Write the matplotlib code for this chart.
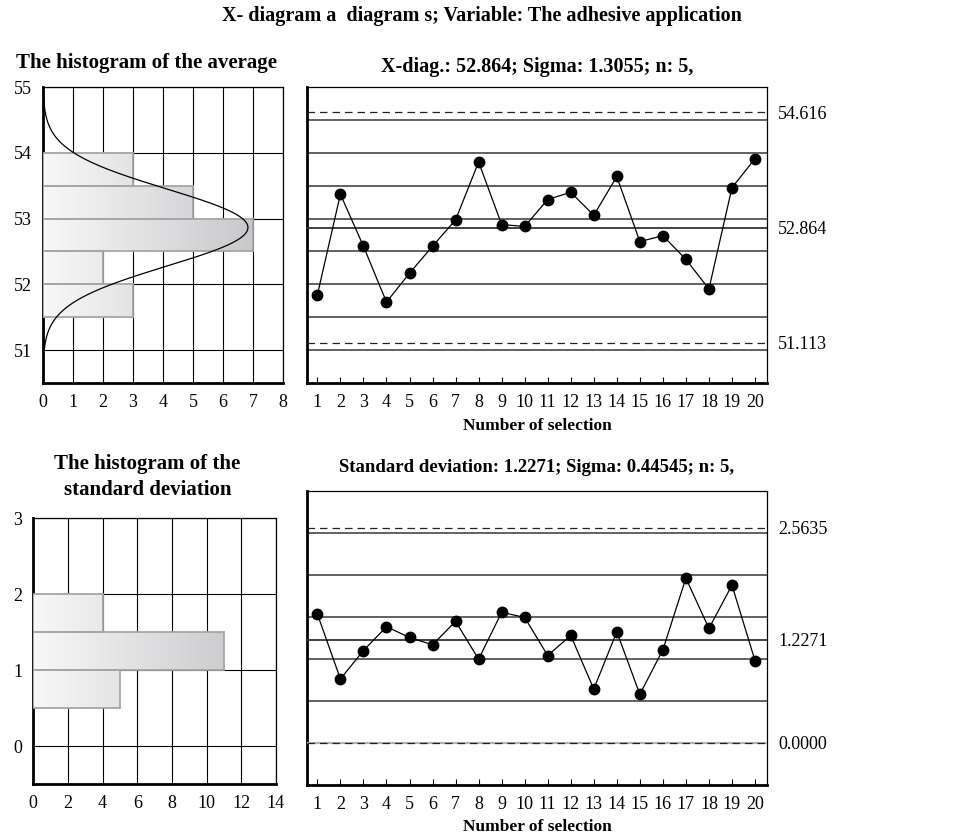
import numpy as np
import matplotlib.pyplot as plt
from matplotlib.colors import LinearSegmentedColormap

plt.rcParams['font.family'] = ['Liberation Serif', 'DejaVu Serif']

# data
samples = list(range(1, 21))
means = [51.84, 53.37, 52.58, 51.73, 52.17, 52.58, 52.98, 53.86, 52.91, 52.88,
         53.29, 53.40, 53.05, 53.64, 52.65, 52.74, 52.38, 51.93, 53.47, 53.91]
stds = [1.536, 0.762, 1.100, 1.384, 1.256, 1.169, 1.448, 0.997, 1.555, 1.495,
        1.041, 1.280, 0.642, 1.324, 0.579, 1.109, 1.962, 1.364, 1.878, 0.981]

x_lims = [51.113, 52.864, 54.616]
s_lims = [0.0, 1.2271, 2.5635]
sigma_x = 1.3055
sigma_s = 0.44545
n_size = 5

mean_edges = [51.5, 52.0, 52.5, 53.0, 53.5, 54.0]
mean_counts = [3, 2, 7, 5, 3]
std_edges = [0.5, 1.0, 1.5, 2.0]
std_counts = [5, 11, 4]

cmap = LinearSegmentedColormap.from_list('g', ['#f8f8f8', '#c2c2c6'])


def grad_bars(ax, edges, counts, xmax):
    for y0, y1, c in zip(edges[:-1], edges[1:], counts):
        bar = ax.barh((y0 + y1) / 2, c, height=y1 - y0, facecolor='none',
                      edgecolor='#a6a6a6', lw=1.3, zorder=4)[0]
        grad = np.linspace(0, c / xmax, 200).reshape(1, -1)
        im = ax.imshow(grad, cmap=cmap, vmin=0, vmax=1, extent=[0, c, y0, y1],
                       aspect='auto', zorder=3, interpolation='bilinear')
        im.set_clip_path(bar)


def style_spines(ax):
    for s in ['left', 'bottom']:
        ax.spines[s].set_linewidth(2)
    for s in ['top', 'right']:
        ax.spines[s].set_linewidth(0.9)


fig = plt.figure(figsize=(9.7, 8.4), dpi=100)

# ---- top left: histogram of means
ax1 = fig.add_axes([0.0443, 0.544, 0.2474, 0.3524])
grad_bars(ax1, mean_edges, mean_counts, 8)
sig_m = sigma_x / np.sqrt(n_size)
yy = np.linspace(51.0, 55.0, 400)
xx = sum(mean_counts) * 0.5 / (sig_m * np.sqrt(2 * np.pi)) * np.exp(-0.5 * ((yy - x_lims[1]) / sig_m) ** 2)
ax1.plot(xx, yy, color='black', lw=0.9, zorder=5)
ax1.set_xlim(0, 8)
ax1.set_ylim(50.5, 55)
ax1.set_xticks(range(0, 9))
ax1.set_yticks(range(51, 56))
ax1.grid(True, color='black', lw=0.8, zorder=1)
ax1.set_axisbelow(True)
ax1.tick_params(labelsize=13, length=0, pad=8)
style_spines(ax1)

# ---- top right: X chart
ax2 = fig.add_axes([0.3165, 0.544, 0.4742, 0.3524])
ax2.plot(samples, means, color='black', lw=0.9, marker='o', ms=7.5, zorder=5)
ax2.axhline(x_lims[0], color='#222222', ls='--', lw=0.9, dashes=(6, 4), zorder=4)
ax2.axhline(x_lims[2], color='#222222', ls='--', lw=0.9, dashes=(6, 4), zorder=4)
ax2.axhline(x_lims[1], color='#333333', lw=1.3, zorder=4)
ax2.set_xlim(0.55, 20.52)
ax2.set_ylim(50.5, 55)
ax2.set_xticks(samples)
ax2.set_xticks(range(2, 21, 2), minor=True)
ax2.set_yticks(np.arange(51, 55, 0.5), minor=True)
ax2.set_yticks(x_lims)
ax2.set_yticklabels(['%.3f' % v for v in x_lims])
ax2.yaxis.tick_right()
ax2.grid(True, which='minor', axis='x', color='black', lw=0.8)
ax2.grid(True, which='minor', axis='y', color='#555555', lw=1.3)
ax2.set_axisbelow(True)
ax2.tick_params(which='minor', length=0)
ax2.tick_params(axis='x', which='major', direction='in', length=4, labelsize=13, pad=8)
ax2.tick_params(axis='y', which='major', length=0, labelsize=13, pad=8)
ax2.set_title('X-diag.: %.3f; Sigma: %.4f; n: %d,' % (x_lims[1], sigma_x, n_size),
              fontsize=14.5, fontweight='bold', pad=11)
ax2.set_xlabel('Number of selection', fontsize=12.5, fontweight='bold', labelpad=5)
style_spines(ax2)

# ---- bottom left: histogram of std
ax3 = fig.add_axes([0.0343, 0.0663, 0.2502, 0.3167])
grad_bars(ax3, std_edges, std_counts, 14)
ax3.set_xlim(0, 14)
ax3.set_ylim(-0.5, 3)
ax3.set_xticks(range(0, 15, 2))
ax3.set_yticks(range(0, 4))
ax3.grid(True, color='black', lw=0.8, zorder=1)
ax3.set_axisbelow(True)
ax3.tick_params(labelsize=13, length=0, pad=8)
style_spines(ax3)

# ---- bottom right: s chart
ax4 = fig.add_axes([0.3165, 0.0655, 0.4742, 0.35])
ax4.plot(samples, stds, color='black', lw=0.9, marker='o', ms=7.5, zorder=5)
ax4.axhline(s_lims[0], color='#b0b0b0', lw=1.5, zorder=3)
ax4.axhline(s_lims[0], color='#222222', ls='--', lw=0.9, dashes=(6, 4), zorder=4)
ax4.axhline(s_lims[2], color='#222222', ls='--', lw=0.9, dashes=(6, 4), zorder=4)
ax4.axhline(s_lims[1], color='#333333', lw=1.3, zorder=4)
ax4.set_xlim(0.55, 20.52)
ax4.set_ylim(-0.5, 3)
ax4.set_xticks(samples)
ax4.set_xticks(range(2, 21, 2), minor=True)
ax4.set_yticks(np.arange(0.5, 3, 0.5), minor=True)
ax4.set_yticks(s_lims)
ax4.set_yticklabels(['%.4f' % v for v in s_lims])
ax4.yaxis.tick_right()
ax4.grid(True, which='minor', axis='x', color='black', lw=0.8)
ax4.grid(True, which='minor', axis='y', color='#555555', lw=1.3)
ax4.set_axisbelow(True)
ax4.tick_params(which='minor', length=0)
ax4.tick_params(axis='x', which='major', direction='in', length=4, labelsize=13, pad=8)
ax4.tick_params(axis='y', which='major', length=0, labelsize=13, pad=8)
ax4.set_title('Standard deviation: %.4f; Sigma: %.5f; n: %d,' % (s_lims[1], sigma_s, n_size),
              fontsize=13.5, fontweight='bold', pad=14)
ax4.set_xlabel('Number of selection', fontsize=12.5, fontweight='bold', labelpad=4)
style_spines(ax4)

fig.text(0.497, 0.981, 'X- diagram a  diagram s; Variable: The adhesive application',
         ha='center', va='center', fontsize=14.5, fontweight='bold')
fig.text(0.151, 0.925, 'The histogram of the average',
         ha='center', va='center', fontsize=15, fontweight='bold')
fig.text(0.152, 0.432, 'The histogram of the\nstandard deviation',
         ha='center', va='center', fontsize=15, fontweight='bold', linespacing=1.4)

fig.savefig('out.png', dpi=100)
